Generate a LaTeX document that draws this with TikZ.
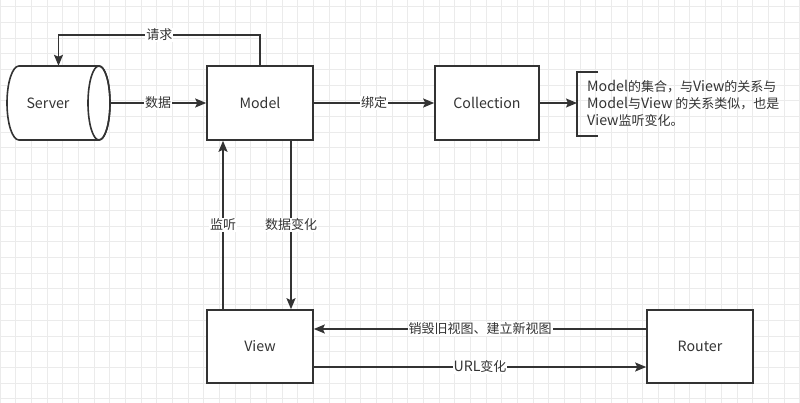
\documentclass[tikz,border=0pt]{standalone}
\usepackage{fontspec}
\setmainfont{Noto Sans CJK SC}
\usetikzlibrary{arrows.meta}
\definecolor{ink}{HTML}{333333}
\definecolor{gridc}{HTML}{EBEBEB}
\newcommand{\latw}[1]{{\fontsize{14.2pt}{17pt}\selectfont #1}}
\begin{document}
\begin{tikzpicture}[x=1pt,y=-1pt,
  txt/.style={font=\fontsize{13pt}{17pt}\selectfont, text=ink},
  box/.style={txt, draw=ink, line width=1.6pt, fill=white, minimum width=106pt, minimum height=74pt, inner sep=0pt},
  conn/.style={draw=ink, line width=1.4pt},
  arr/.style={conn, -{Stealth[length=11pt,width=9pt,inset=2pt]}},
  lbl/.style={txt, fill=white, inner sep=1pt}]
% background and grid
\fill[white] (0,0) rectangle (800,403);
\useasboundingbox (0,0) rectangle (800,403);
\foreach \i in {0,...,51} {\draw[gridc, line width=0.9pt] ({\i*15.68},0) -- ({\i*15.68},403);}
\foreach \j in {0,...,25} {\draw[gridc, line width=0.9pt] (0,{6.7+\j*15.68}) -- (800,{6.7+\j*15.68});}
% server cylinder
\filldraw[draw=ink, fill=white, line width=1.6pt] (19,66) -- (99,66) arc[start angle=-90, end angle=90, x radius=11, y radius=37] -- (19,140) arc[start angle=90, end angle=270, x radius=12, y radius=37] -- cycle;
\draw[ink, line width=1.6pt] (99,103) ellipse[x radius=11, y radius=37];
\node[minimum width=103pt, minimum height=74pt, inner sep=0pt] (server) at (58.5,103) {};
\node[txt] (servertxt) at (48,103) {\latw{Server}};
% boxes
\node[box] (model) at (260,103) {\latw{Model}};
\node[box, minimum width=104pt] (coll) at (487,103) {\latw{Collection}};
\node[box, minimum height=73pt] (view) at (260,346.5) {\latw{View}};
\node[box, minimum height=73pt] (router) at (700,346.5) {\latw{Router}};
% note with bracket
\node[txt, anchor=west, align=left, inner sep=0pt] (note) at (587,103) {\latw{Model}的集合，与\latw{View}的关系与\\\latw{Model}与\latw{View} 的关系类似，也是\\\latw{View}监听变化。};
\coordinate (br) at (577,103);
\draw[conn, line width=1.6pt] (598,72) -- (577,72) -- (577,136) -- (598,136);
% connectors
\coordinate (req) at (58.5,35);
\draw[arr] (model.north) |- node[lbl, pos=0.75] {请求} (req) -- (server.north);
\draw[arr] (server.east) -- node[lbl] {数据} (model.west);
\draw[arr] (model.east) -- node[lbl] {绑定} (coll.west);
\draw[arr] (coll.east) -- (br);
\draw[arr] ([xshift=-37pt]view.north) -- node[lbl] {监听} ([xshift=-37pt]model.south);
\draw[arr] ([xshift=31pt]model.south) -- node[lbl] {数据变化} ([xshift=31pt]view.north);
\draw[arr] ([yshift=17.5pt]router.west) -- node[lbl] {销毁旧视图、建立新视图} ([yshift=17.5pt]view.east);
\draw[arr] ([yshift=-20.5pt]view.east) -- node[lbl] {\latw{URL}变化} ([yshift=-20.5pt]router.west);
\end{tikzpicture}
\end{document}
